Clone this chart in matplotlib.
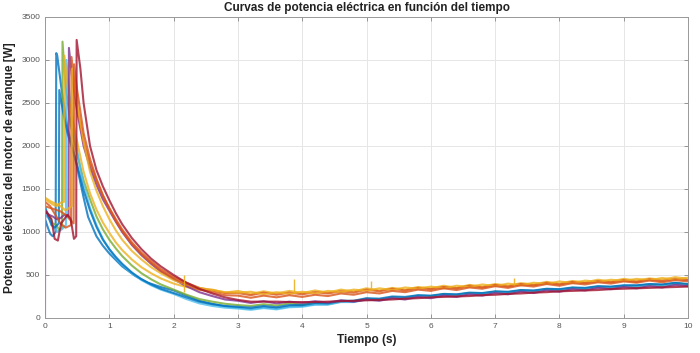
import matplotlib
matplotlib.use("Agg")
import matplotlib.pyplot as plt

# ---------------- data ----------------
T_TAIL = [2.6, 2.8, 3.0, 3.2, 3.4, 3.6, 3.8, 4.0, 4.2, 4.4, 4.6, 4.8, 5.0, 5.2, 5.4,
          5.6, 5.8, 6.0, 6.2, 6.4, 6.6, 6.8, 7.0, 7.2, 7.4, 7.6, 7.8, 8.0, 8.2, 8.4,
          8.6, 8.8, 9.0, 9.2, 9.4, 9.6, 9.8, 10.0]

# start segment (plateau, jump, decay) for each test
blue_t = [0, 0.04, 0.08, 0.12, 0.165, 0.175, 0.19, 0.25, 0.3, 0.35, 0.44, 0.5, 0.6, 0.67, 0.8, 0.9,
          1.0, 1.2, 1.4, 1.6, 1.8, 2.0, 2.2, 2.4]
blue_w = [1150, 1060, 980, 950, 1000, 3080, 3050, 2700, 2450, 2200, 1950, 1750, 1400, 1175, 950, 840,
          750, 600, 490, 410, 360, 320, 260, 200]
blue_tail = [165, 135, 120, 105, 125, 110, 135, 140, 160, 160, 190, 190, 220, 215, 240, 235, 260, 255,
             275, 270, 290, 285, 305, 300, 320, 315, 335, 330, 350, 345, 365, 360, 375, 375, 390, 385,
             405, 390]

blue2_t = [0, 0.05, 0.10, 0.15, 0.215, 0.222, 0.28, 0.35, 0.45, 0.5, 0.6, 0.7, 0.8, 0.9, 1.0, 1.1,
           1.2, 1.35, 1.5, 1.65, 1.8, 2.0, 2.2, 2.4]
blue2_w = [1300, 1180, 1080, 1050, 1100, 2650, 2400, 2150, 1900, 1780, 1480, 1250, 1060, 910, 800, 710,
           630, 530, 450, 390, 340, 290, 240, 190]
blue2_tail = [160, 140, 130, 120, 140, 125, 150, 150, 175, 170, 200, 200, 230, 225, 250, 245, 265, 260,
              280, 275, 295, 290, 310, 305, 325, 320, 340, 335, 355, 350, 370, 365, 380, 380, 395, 390,
              410, 395]

green_t = [0, 0.06, 0.12, 0.18, 0.22, 0.265, 0.272, 0.32, 0.4, 0.5, 0.6, 0.7, 0.8, 0.9, 1.0, 1.1, 1.2,
           1.35, 1.5, 1.65, 1.8, 2.0, 2.2, 2.4]
green_w = [1250, 1200, 1100, 1080, 1020, 1050, 3213, 2700, 2250, 1900, 1600, 1380, 1180, 1030, 910, 810,
           720, 610, 520, 450, 390, 330, 270, 220]
green_tail = [190, 165, 150, 140, 160, 145, 170, 155, 185, 170, 200, 195, 225, 210, 240, 225, 255, 250,
              275, 260, 290, 275, 305, 290, 320, 305, 335, 320, 350, 335, 360, 345, 370, 355, 385, 370,
              395, 390]

yellow_t = [0, 0.06, 0.12, 0.18, 0.24, 0.295, 0.302, 0.35, 0.4, 0.5, 0.6, 0.7, 0.8, 0.9, 1.0, 1.1, 1.2,
            1.35, 1.5, 1.65, 1.8, 2.0, 2.2, 2.4]
yellow_w = [1380, 1350, 1320, 1300, 1340, 1350, 3050, 2700, 2400, 2050, 1700, 1450, 1260, 1110, 990, 880,
            790, 680, 590, 520, 460, 400, 360, 330]
yellow_tail = [330, 295, 315, 280, 310, 285, 315, 290, 320, 295, 330, 310, 345, 320, 350, 330, 360, 345,
               375, 350, 385, 365, 395, 375, 405, 390, 420, 400, 430, 415, 445, 425, 455, 435, 460, 445,
               475, 455]

cyan_t = [0, 0.07, 0.14, 0.2, 0.26, 0.325, 0.332, 0.38, 0.45, 0.5, 0.6, 0.7, 0.8, 0.9, 1.0, 1.1, 1.2,
          1.35, 1.5, 1.65, 1.8, 2.0, 2.2, 2.4]
cyan_w = [1200, 1150, 1050, 1000, 1030, 1080, 3000, 2600, 2200, 1950, 1550, 1280, 1080, 920, 800, 700,
          620, 520, 440, 380, 330, 280, 220, 170]
cyan_tail = [140, 120, 110, 95, 115, 100, 125, 130, 155, 155, 185, 185, 215, 210, 235, 230, 255, 250,
             270, 265, 285, 280, 300, 295, 315, 310, 330, 325, 345, 340, 360, 355, 370, 365, 380, 375,
             395, 380]

purple_t = [0, 0.002, 0.06, 0.12, 0.18, 0.24, 0.3, 0.365, 0.372, 0.42, 0.5, 0.6, 0.7, 0.8, 0.9, 1.0,
            1.1, 1.2, 1.35, 1.5, 1.65, 1.8, 2.0, 2.2, 2.4]
purple_w = [0, 1250, 1200, 1180, 1150, 1160, 1200, 1180, 3140, 2800, 2400, 2000, 1750, 1550, 1380, 1250,
            1120, 1000, 850, 730, 630, 540, 450, 370, 300]
purple_tail = [255, 215, 200, 175, 195, 170, 190, 175, 195, 180, 205, 190, 215, 200, 230, 215, 245, 230,
               260, 245, 275, 260, 290, 275, 305, 290, 320, 305, 335, 320, 350, 335, 360, 345, 370, 355,
               385, 370]

orange_t = [0, 0.08, 0.16, 0.24, 0.32, 0.405, 0.412, 0.45, 0.5, 0.6, 0.7, 0.8, 0.9, 1.0, 1.1, 1.2, 1.35,
            1.5, 1.65, 1.8, 2.0, 2.2, 2.4]
orange_w = [1350, 1300, 1200, 1100, 1050, 1080, 3035, 2750, 2450, 2050, 1800, 1600, 1420, 1280, 1150,
            1030, 880, 760, 660, 570, 480, 410, 350]
orange_tail = [320, 290, 290, 265, 295, 270, 295, 275, 300, 285, 310, 295, 330, 310, 340, 320, 350, 335,
               360, 345, 375, 355, 385, 365, 395, 380, 410, 390, 420, 405, 430, 415, 440, 420, 450, 430,
               455, 440]

yellow2_t = [0, 0.08, 0.16, 0.24, 0.32, 0.415, 0.422, 0.5, 0.6, 0.7, 0.8, 0.9, 1.0, 1.1, 1.2, 1.35, 1.5,
             1.65, 1.8, 2.0, 2.2, 2.4]
yellow2_w = [1400, 1360, 1330, 1300, 1250, 1300, 2900, 2500, 2050, 1700, 1480, 1300, 1150, 1020, 910, 780,
             680, 590, 520, 440, 390, 350]
yellow2_tail = [325, 300, 295, 305, 275, 300, 280, 305, 285, 315, 300, 330, 315, 345, 325, 355, 340, 365,
                345, 375, 360, 390, 370, 400, 380, 410, 395, 425, 405, 435, 420, 445, 430, 455, 440, 465,
                445, 470]

orange2_t = [0, 0.08, 0.16, 0.24, 0.32, 0.38, 0.445, 0.452, 0.5, 0.6, 0.7, 0.8, 0.9, 1.0, 1.1, 1.2, 1.35,
             1.5, 1.65, 1.8, 2.0, 2.2, 2.4]
orange2_w = [1300, 1280, 1260, 1240, 1200, 1150, 1100, 2950, 2650, 2150, 1850, 1620, 1430, 1270, 1130,
             1010, 860, 740, 640, 550, 460, 390, 330]
orange2_tail = [300, 265, 260, 235, 260, 240, 265, 245, 270, 255, 285, 270, 300, 285, 315, 300, 330, 315,
                345, 325, 355, 340, 370, 350, 380, 365, 395, 375, 405, 390, 415, 400, 425, 410, 435, 415,
                440, 425]

darkred_t = [0, 0.05, 0.1, 0.15, 0.2, 0.25, 0.3, 0.35, 0.4, 0.45, 0.485, 0.492, 0.55, 0.6, 0.7, 0.8, 0.9,
             1.0, 1.1, 1.2, 1.35, 1.5, 1.65, 1.8, 2.0, 2.2, 2.4]
darkred_w = [1250, 1200, 1150, 920, 900, 1100, 1150, 1200, 1150, 920, 950, 3233, 2900, 2500, 2000, 1720,
             1530, 1370, 1220, 1090, 930, 800, 690, 600, 500, 410, 340]
darkred_tail = [285, 240, 210, 190, 190, 190, 185, 185, 185, 190, 195, 200, 205, 210, 215, 225, 230, 240,
                245, 250, 255, 265, 270, 280, 285, 295, 300, 310, 315, 320, 325, 335, 340, 345, 350, 355,
                360, 365]

# isolated spikes seen on the yellow trace
spike_t = [2.16, 3.87, 5.07, 7.3]
spike_lo = [300, 300, 335, 385]
spike_hi = [500, 455, 425, 470]

# ---------------- styling ----------------
C_BLUE = "#0072BD"
C_ORANGE = "#D95319"
C_YELLOW = "#EDB120"
C_PURPLE = "#7E2F8E"
C_GREEN = "#77AC30"
C_CYAN = "#4DBEEE"
C_RED = "#A2142F"

series = [
    (blue_t, blue_w, blue_tail, C_BLUE),
    (green_t, green_w, green_tail, C_GREEN),
    (cyan_t, cyan_w, cyan_tail, C_CYAN),
    (blue2_t, blue2_w, blue2_tail, C_BLUE),
    (yellow_t, yellow_w, yellow_tail, C_YELLOW),
    (purple_t, purple_w, purple_tail, C_PURPLE),
    (orange_t, orange_w, orange_tail, C_ORANGE),
    (yellow2_t, yellow2_w, yellow2_tail, C_YELLOW),
    (orange2_t, orange2_w, orange2_tail, C_ORANGE),
    (darkred_t, darkred_w, darkred_tail, C_RED),
]

plt.rcParams['font.family'] = ['Liberation Sans', 'DejaVu Sans']
fig = plt.figure(figsize=(7.0, 3.53), dpi=100)
ax = fig.add_axes([0.0643, 0.0992, 0.9186, 0.8528])

for t0, w0, wt, col in series:
    ax.plot(list(t0) + T_TAIL, list(w0) + wt, color=col, lw=1.5, alpha=0.8)

ax.vlines(spike_t, spike_lo, spike_hi, color=C_YELLOW, lw=1.0, alpha=0.9)

ax.set_xlim(0, 10)
ax.set_ylim(0, 3500)
ax.set_xticks(range(0, 11))
ax.set_yticks(range(0, 3501, 500))
ax.grid(True, color="#e6e6e6", lw=0.7)
ax.set_axisbelow(True)
ax.tick_params(direction="in", top=True, right=True, labelsize=6, colors="#888888",
               length=3, width=0.6, labelcolor="#555555")
for s in ax.spines.values():
    s.set_color("#999999")
    s.set_linewidth(0.7)

ax.set_title("Curvas de potencia eléctrica en función del tiempo", fontsize=8.5,
             fontweight="bold", color="#222222", pad=4)
ax.set_xlabel("Tiempo (s)", fontsize=8.5, fontweight="bold", color="#222222", labelpad=3)
ax.set_ylabel("Potencia eléctrica del motor de arranque [W]", fontsize=8.5, fontweight="bold",
              color="#222222", labelpad=4)

fig.savefig("out.png", dpi=100)
